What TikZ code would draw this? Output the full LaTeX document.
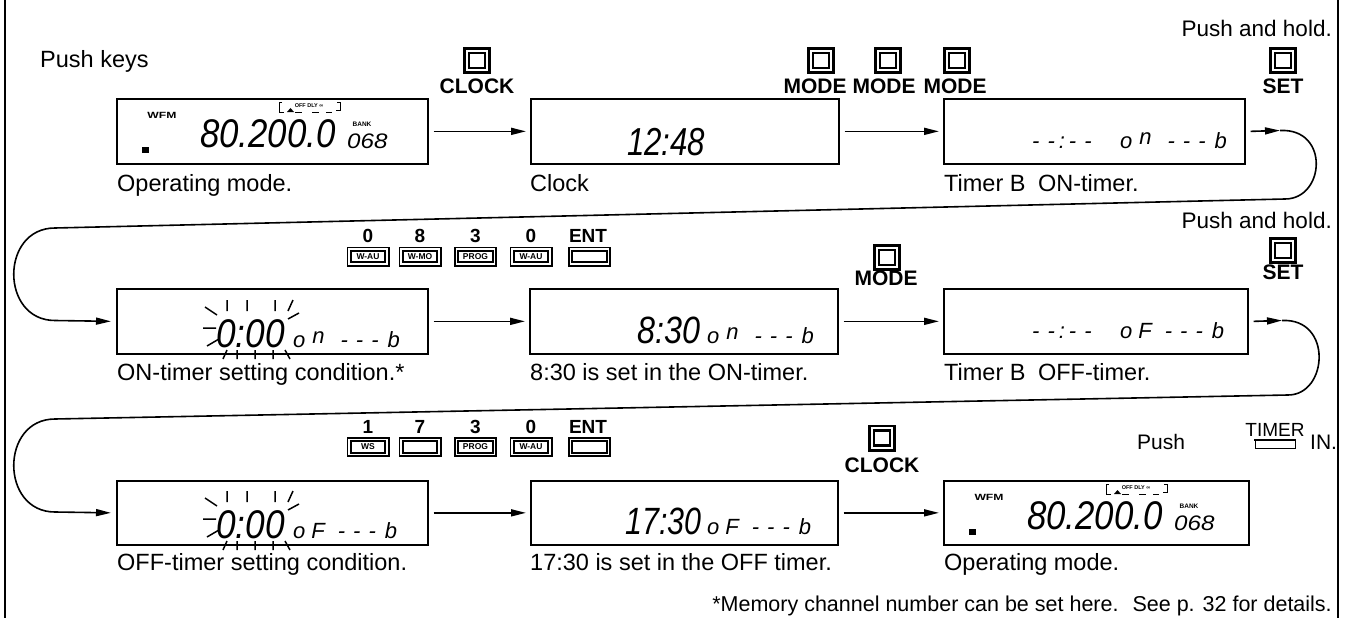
\documentclass[tikz,border=0pt]{standalone}
\usepackage{fontspec}
\setmainfont{Liberation Sans}
\usetikzlibrary{arrows.meta}
\newcommand\fs[1]{\fontsize{#1}{#1}\selectfont}
\newcommand\lcd[3]{\scalebox{#1}[1]{\fs{#2}\itshape #3}}
\newcommand\tailon{o\hspace{7pt}\raisebox{4pt}{n}\hspace{16pt}-\hspace{8pt}-\hspace{8pt}-\hspace{9pt}b}
\newcommand\tailof{o\hspace{6pt}F\hspace{13pt}-\hspace{8pt}-\hspace{8pt}-\hspace{9pt}b}
\newcommand\dashtime{-\hspace{8pt}-\hspace{4pt}:\hspace{4pt}-\hspace{8pt}-}
\newcommand\blinkrays[2]{%
\begin{scope}[shift={(#1,#2)}, line width=1.5pt]
\draw (-25,-32)--(-25,-21) (-5,-32)--(-5,-21) (23,-32)--(23,-21) (41,-32)--(36,-21);
\draw (-47,-25)--(-35,-17) (-49,-4)--(-36,-4) (-45,14)--(-33,7);
\draw (47,-19)--(36,-13);
\draw (-29,27)--(-25,18) (-15,18)--(-15,27) (3,18)--(3,27) (21,18)--(21,27) (33,18)--(38,27);
\end{scope}}
\newcommand\opdisp[3]{%
\begin{scope}[shift={(#2,#3)}]
\node[font=\fs{9}\bfseries, inner sep=0pt] (#1wfm) at (46,17) {\scalebox{1.35}[1]{WFM}};
\fill (26,49) rectangle (33,55);
\node[font=\fs{5.5}\bfseries, inner sep=0pt] (#1odl) at (193,8) {OFF DLY ∞};
\draw[line width=0.9pt] (166,4)--(163,4)--(163,14)--(168,14) (221,4)--(224,4)--(224,12)--(220,12);
\fill (171,14)--(174.5,10)--(178,14)--cycle;
\draw[line width=0.9pt] (179,14)--(186,14) (196,14)--(203,14) (210,14)--(216,14);
\node[font=\fs{6.5}\bfseries, inner sep=0pt] (#1bank) at (246,26.5) {BANK};
\node[anchor=base west, inner sep=0pt] (#1ch) at (231,50) {\lcd{1.15}{21}{068}};
\node[anchor=base west, inner sep=0pt] (#1fr) at (84,49) {\lcd{0.87}{40}{80.200.0}};
\end{scope}}
\begin{document}
\begin{tikzpicture}[x=1pt,y=-1pt,
  sqkey/.style={draw, double, line width=2.6pt, double distance=2.2pt, minimum width=20.6pt, minimum height=19.6pt, inner sep=0pt},
  smkey/.style={draw, double, line width=1.8pt, double distance=1.6pt, minimum width=37.8pt, minimum height=14.8pt, inner sep=0pt, font=\fs{8.5}\bfseries},
  klab/.style={font=\fs{21}\bfseries, inner sep=0pt},
  dlab/.style={font=\fs{19}\bfseries, inner sep=0pt},
  captxt/.style={font=\fs{23.5}, inner sep=0pt},
  conn/.style={line width=1.6pt, -{Triangle[length=15pt,width=7pt]}},
  cline/.style={line width=1.6pt},
  lcdbox/.style={draw, line width=1.7pt, inner sep=0pt, anchor=north west},
  lcdtxt/.style={anchor=base west, inner sep=0pt}]
\useasboundingbox (0,0) rectangle (1345,618);
% frame sides
\draw[line width=2pt] (5,0) -- (5,618);
\draw[line width=2pt] (1338,0) -- (1338,618);

% ---------- Row 1 ----------
\node[font=\fs{23.5}, anchor=base west, inner sep=0pt] (pushkeys) at (40,67) {Push keys};
\node[font=\fs{22.5}, anchor=base east, inner sep=0pt] (ph1) at (1332,37) {Push and hold.};

\node[sqkey] (kclk1) at (477,60.5) {};
\node[klab, anchor=base] (lclk1) at (477,94) {CLOCK};
\node[sqkey] (kmd1) at (821,60.5) {};
\node[klab, anchor=base] (lmd1) at (815,94) {MODE};
\node[sqkey] (kmd2) at (888,60.5) {};
\node[klab, anchor=base] (lmd2) at (884,94) {MODE};
\node[sqkey] (kmd3) at (957,60.5) {};
\node[klab, anchor=base] (lmd3) at (955,94) {MODE};
\node[sqkey] (kset1) at (1283,60.5) {};
\node[klab, anchor=base] (lset1) at (1283,94) {SET};

\node[lcdbox, minimum width=311pt, minimum height=65pt] (d1) at (116,98) {};
\opdisp{da}{116}{98}
\node[lcdbox, minimum width=308pt, minimum height=65pt] (d2) at (530,98) {};
\node[lcdtxt] (t2) at (627,155) {\lcd{0.8}{39}{12:48}};
\node[lcdbox, minimum width=301pt, minimum height=65pt] (d3) at (943,98) {};
\node[lcdtxt] (t3a) at (1032,148) {\fs{22}\itshape\dashtime};
\node[lcdtxt] (t3b) at (1120,148) {\fs{22}\itshape\tailon};

\node[captxt, anchor=base west] (c1) at (117,191) {Operating mode.};
\node[captxt, anchor=base west] (c2) at (530,191) {Clock};
\node[captxt, anchor=base west] (c3) at (944,191) {Timer B\hspace{6pt} ON-timer.};

\draw[conn] ([xshift=5pt]d1.east) -- ([xshift=-4pt]d2.west);
\draw[conn] ([xshift=5pt]d2.east) -- ([xshift=-4pt]d3.west);

% loop 1
\coordinate (l1a) at (1280,130.5);
\coordinate (l1b) at (1285,199);
\coordinate (l1c) at (55,228);
\coordinate (l1d) at (55,320.5);
\draw[conn] ([xshift=5pt]d3.east) -- (l1a);
\draw[cline] (l1a) .. controls (1330,128) and (1325,199) .. (l1b) -- (l1c) .. controls (0,228) and (0,320.5) .. (l1d);

% ---------- Row 2 ----------
\node[font=\fs{22.5}, anchor=base east, inner sep=0pt] (ph2) at (1332,228) {Push and hold.};
\node[smkey] (k21) at (368,256.5) {W-AU};
\node[smkey] (k22) at (420,256.5) {W-MO};
\node[smkey] (k23) at (475.5,256.5) {PROG};
\node[smkey] (k24) at (531,256.5) {W-AU};
\node[smkey] (k25) at (589.5,256.5) {};
\node[dlab, anchor=base] (n21) at (368,242) {0};
\node[dlab, anchor=base] (n22) at (420,242) {8};
\node[dlab, anchor=base] (n23) at (475.5,242) {3};
\node[dlab, anchor=base] (n24) at (531,242) {0};
\node[dlab, anchor=base] (n25) at (588,242) {ENT};
\node[sqkey] (kmd4) at (887,257.5) {};
\node[klab, anchor=base] (lmd4) at (886,285) {MODE};
\node[sqkey] (kset2) at (1283,250.5) {};
\node[klab, anchor=base] (lset2) at (1283,279) {SET};

\node[lcdbox, minimum width=311pt, minimum height=65pt] (d4) at (116,288) {};
\node[lcdtxt] (t4a) at (216,347) {\lcd{0.88}{40}{0:00}};
\node[lcdtxt] (t4b) at (293,347) {\fs{22}\itshape\tailon};
\blinkrays{252}{332}
\node[lcdbox, minimum width=308pt, minimum height=65pt] (d5) at (529,288) {};
\node[lcdtxt] (t5a) at (637,343) {\lcd{0.85}{38}{8:30}};
\node[lcdtxt] (t5b) at (707,343) {\fs{22}\itshape\tailon};
\node[lcdbox, minimum width=304pt, minimum height=65pt] (d6) at (943,288) {};
\node[lcdtxt] (t6a) at (1032,338) {\fs{22}\itshape\dashtime};
\node[lcdtxt] (t6b) at (1120,338) {\fs{22}\itshape\tailof};

\node[captxt, anchor=base west] (c4) at (117,380) {ON-timer setting condition.*};
\node[captxt, anchor=base west] (c5) at (530,380) {8:30 is set in the ON-timer.};
\node[captxt, anchor=base west] (c6) at (944,380) {Timer B\hspace{6pt} OFF-timer.};

\draw[conn] (l1d) -- ([xshift=-5pt]d4.west);
\draw[conn] ([xshift=5pt]d4.east) -- ([xshift=-4pt]d5.west);
\draw[conn] ([xshift=5pt]d5.east) -- ([xshift=-4pt]d6.west);

% loop 2
\coordinate (l2a) at (1282,320.5);
\coordinate (l2b) at (1288,395);
\coordinate (l2c) at (55,419);
\coordinate (l2d) at (55,512);
\draw[conn] ([xshift=5pt]d6.east) -- (l2a);
\draw[cline] (l2a) .. controls (1333,318) and (1328,395) .. (l2b) -- (l2c) .. controls (0,419) and (0,512) .. (l2d);

% ---------- Row 3 ----------
\node[smkey] (k31) at (368,447) {WS};
\node[smkey] (k32) at (420,447) {};
\node[smkey] (k33) at (475.5,447) {PROG};
\node[smkey] (k34) at (531,447) {W-AU};
\node[smkey] (k35) at (589.5,447) {};
\node[dlab, anchor=base] (n31) at (368,433) {1};
\node[dlab, anchor=base] (n32) at (420,433) {7};
\node[dlab, anchor=base] (n33) at (475.5,433) {3};
\node[dlab, anchor=base] (n34) at (531,433) {0};
\node[dlab, anchor=base] (n35) at (588,433) {ENT};
\node[sqkey] (kclk2) at (882,438) {};
\node[klab, anchor=base] (lclk2) at (882,472) {CLOCK};
\node[font=\fs{21}, anchor=base west, inner sep=0pt] (push) at (1137,449) {Push};
\node[font=\fs{19}, anchor=base, inner sep=0pt] (tmr) at (1275,436) {TIMER};
\draw[line width=1pt] (1255,440) -- (1255,448) -- (1295,448) -- (1295,440);
\draw[line width=2.4pt] (1254,440) -- (1296,440);
\node[font=\fs{21}, anchor=base west, inner sep=0pt] (in) at (1310,449) {IN.};

\node[lcdbox, minimum width=311pt, minimum height=64pt] (d7) at (116,480) {};
\node[lcdtxt] (t7a) at (216,538) {\lcd{0.88}{40}{0:00}};
\node[lcdtxt] (t7b) at (293,538) {\fs{22}\itshape\tailof};
\blinkrays{252}{523}
\node[lcdbox, minimum width=307pt, minimum height=64pt] (d8) at (530,480) {};
\node[lcdtxt] (t8a) at (625,534) {\lcd{0.8}{38}{17:30}};
\node[lcdtxt] (t8b) at (707,534) {\fs{22}\itshape\tailof};
\node[lcdbox, minimum width=305pt, minimum height=64pt] (d9) at (943,480) {};
\opdisp{db}{943}{480}

\node[captxt, anchor=base west] (c7) at (117,570) {OFF-timer setting condition.};
\node[captxt, anchor=base west] (c8) at (530,570) {17:30 is set in the OFF timer.};
\node[captxt, anchor=base west] (c9) at (944,570) {Operating mode.};

\draw[conn] (l2d) -- ([xshift=-5pt]d7.west);
\draw[conn] ([xshift=5pt]d7.east) -- ([xshift=-4pt]d8.west);
\draw[conn] ([xshift=5pt]d8.east) -- ([xshift=-4pt]d9.west);

\node[font=\fs{21.5}, anchor=base east, inner sep=0pt] (foot) at (1332,611) {*Memory channel number can be set here.\hspace{6pt} See p. 32 for details.};
\end{tikzpicture}
\end{document}
